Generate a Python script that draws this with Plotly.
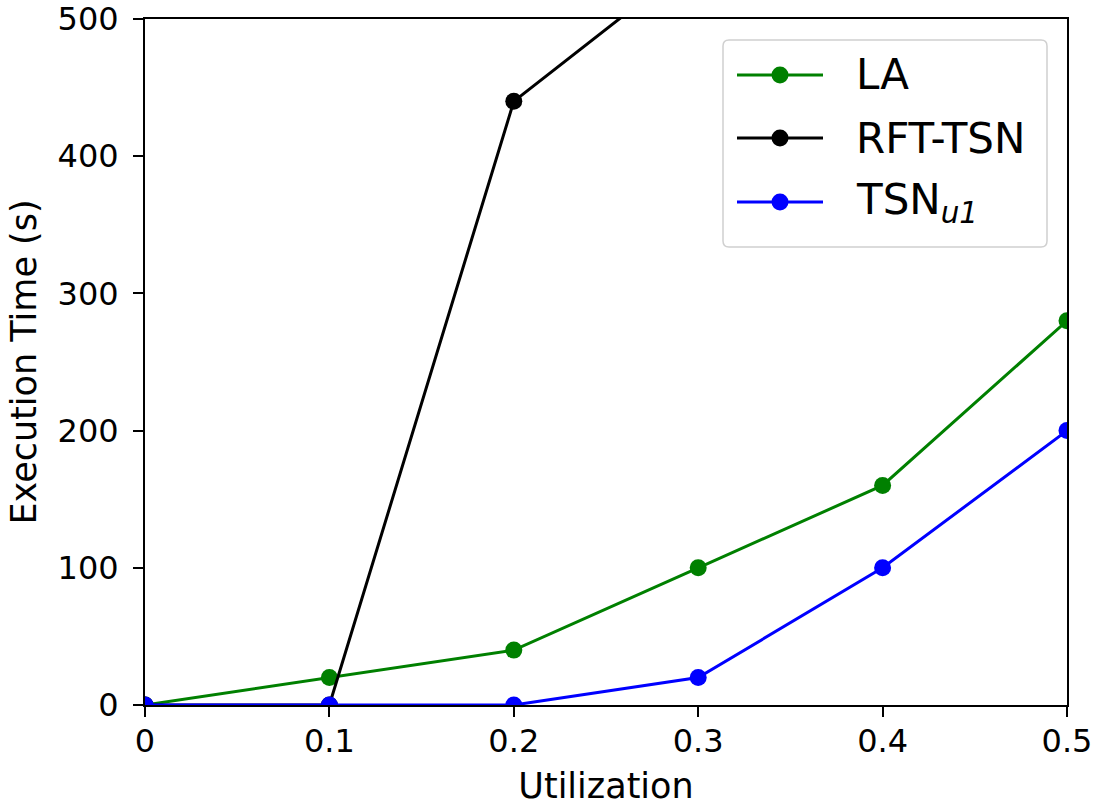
import plotly.graph_objects as go

utilization = [0, 0.1, 0.2, 0.3, 0.4, 0.5]
la_time = [0, 20, 40, 100, 160, 280]
rft_util = [0, 0.1, 0.2, 0.3]
rft_time = [0, 0, 440, 545]
tsn_time = [0, 0, 0, 20, 100, 200]

x_ticks = [0, 0.1, 0.2, 0.3, 0.4, 0.5]
x_ticklabels = ["0", "0.1", "0.2", "0.3", "0.4", "0.5"]
y_ticks = [0, 100, 200, 300, 400, 500]

series_names = ["LA", "RFT-TSN", "TSN<sub><i>u1</i></sub>"]
series_colors = ["#008000", "#000000", "#0000ff"]

W, H = 1097, 806
L, R, T, B = 145, 30, 19, 101
PW, PH = W - L - R, H - T - B

FONT = "DejaVu Sans"

fig = go.Figure()
series = [(utilization, la_time), (rft_util, rft_time), (utilization, tsn_time)]
for (xs, ys), name, col in zip(series, series_names, series_colors):
    fig.add_trace(go.Scatter(
        x=xs, y=ys, mode="lines+markers", name=name,
        line=dict(color=col, width=3),
        marker=dict(color=col, size=17),
        cliponaxis=True, showlegend=False,
    ))

def px(x):
    return (x - L) / PW

def py(y):
    return (H - B - y) / PH

shapes = []
# legend box (rounded rect)
bx0, bx1, by0, by1, r = 723, 1047, 40, 247, 6
path = (
    f"M {px(bx0 + r)},{py(by0)} L {px(bx1 - r)},{py(by0)} "
    f"Q {px(bx1)},{py(by0)} {px(bx1)},{py(by0 + r)} "
    f"L {px(bx1)},{py(by1 - r)} Q {px(bx1)},{py(by1)} {px(bx1 - r)},{py(by1)} "
    f"L {px(bx0 + r)},{py(by1)} Q {px(bx0)},{py(by1)} {px(bx0)},{py(by1 - r)} "
    f"L {px(bx0)},{py(by0 + r)} Q {px(bx0)},{py(by0)} {px(bx0 + r)},{py(by0)} Z"
)
shapes.append(dict(type="path", xref="paper", yref="paper", path=path,
                   line=dict(color="#d0d0d0", width=1.5), fillcolor="rgba(255,255,255,0.85)",
                   layer="above"))
annotations = []
row_y = [75, 138, 202]
for name, col, ry in zip(series_names, series_colors, row_y):
    shapes.append(dict(type="line", xref="paper", yref="paper",
                       x0=px(737), x1=px(823), y0=py(ry), y1=py(ry),
                       line=dict(color=col, width=3), layer="above"))
    shapes.append(dict(type="circle", xref="paper", yref="paper",
                       xsizemode="pixel", ysizemode="pixel",
                       xanchor=px(780), yanchor=py(ry),
                       x0=-8.5, x1=8.5, y0=-8.5, y1=8.5,
                       line=dict(color=col, width=0), fillcolor=col, layer="above"))
    annotations.append(dict(xref="paper", yref="paper", x=px(854), y=py(ry),
                            text=name, showarrow=False, xanchor="left", yanchor="middle",
                            font=dict(family=FONT, size=42, color="#000000")))

axis_common = dict(
    showgrid=False, zeroline=False, showline=True, mirror=True, automargin=False,
    linecolor="#000000", linewidth=2, ticks="outside", ticklen=10, tickwidth=2,
    tickcolor="#000000", tickfont=dict(family=FONT, size=32, color="#000000"),
)

fig.update_layout(
    width=W, height=H,
    margin=dict(l=L, r=R, t=T, b=B, pad=0, autoexpand=False),
    paper_bgcolor="white", plot_bgcolor="white",
    shapes=shapes, annotations=annotations,
    xaxis=dict(range=[0, 0.5], tickvals=x_ticks, ticktext=x_ticklabels,
               title=dict(text="Utilization", font=dict(family=FONT, size=35, color="#000000"),
                          standoff=15),
               ticklabelstandoff=-3, **axis_common),
    yaxis=dict(range=[0, 500], tickvals=y_ticks,
               title=dict(text="Execution Time (s)", font=dict(family=FONT, size=35, color="#000000"),
                          standoff=10),
               ticklabelstandoff=8, **axis_common),
    showlegend=False,
)

fig.write_html("out.html")
